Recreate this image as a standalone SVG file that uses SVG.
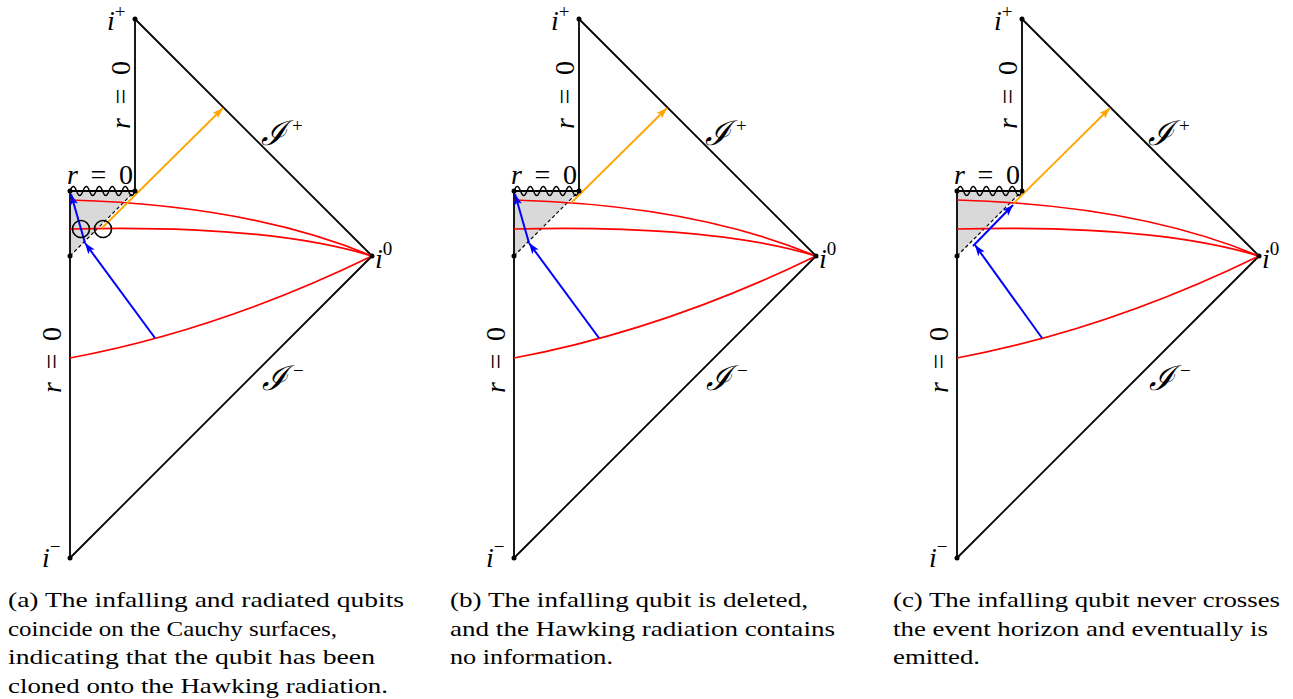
<svg xmlns="http://www.w3.org/2000/svg" width="1293" height="699" viewBox="0 0 1293 699">
<style>
.blk{fill:none;stroke:#000;stroke-width:1.8;stroke-linejoin:round}
.wav{fill:none;stroke:#000;stroke-width:1.4}
.dash{fill:none;stroke:#000;stroke-width:1.2;stroke-dasharray:3.5 2.5}
.shade{fill:#d9d9d9;stroke:none}
.red{fill:none;stroke:#ff0000;stroke-width:1.7}
.blue{fill:none;stroke:#0000ff;stroke-width:2}
.orange{fill:none;stroke:#ffa500;stroke-width:1.8}
.circ{fill:none;stroke:#000;stroke-width:1.6}
.dot{fill:#000}
.it{font-style:italic}
.sup{font-size:19px}
.scr{font-family:"DejaVu Serif",serif;font-size:34px;font-style:italic}
</style>
<defs>
<marker id="ab" viewBox="0 -5 12 10" refX="11" refY="0" markerWidth="12" markerHeight="10" markerUnits="userSpaceOnUse" orient="auto"><path d="M0,-4 L11,0 L0,4 L2.5,0 z" fill="#0000ff"/></marker>
<marker id="ao" viewBox="0 -5 12 10" refX="11" refY="0" markerWidth="12" markerHeight="10" markerUnits="userSpaceOnUse" orient="auto"><path d="M0,-4 L11,0 L0,4 L2.5,0 z" fill="#ffa500"/></marker>
</defs>

<!-- Panel (a) -->
<g id="panel-a">
  <g id="a-region"><path class="shade" d="M70,191 L135,191 L70,256 Z"/></g>
  <g id="a-frame">
    <path class="blk" d="M135,19 L135,191"/>
    <path class="blk" d="M135,19 L372,256 L70,558 L70,191 L135,191"/>
    <path class="wav" d="M70,191 q3.25,-9 6.5,0 t6.5,0 t6.5,0 t6.5,0 t6.5,0 t6.5,0 t6.5,0 t6.5,0 t6.5,0 t6.5,0"/>
    <path class="dash" d="M70,256 L135,191"/>
  </g>
  <g id="a-surfaces">
    <path class="red" d="M70,200 Q250,205 372,256"/>
    <path class="red" d="M70,229 C150,227 280,228 372,256"/>
    <path class="red" d="M70,358 Q220,330 372,256"/>
  </g>
  <g id="a-connectors">
    <path class="blue" d="M155,338 L85,243" marker-end="url(#ab)"/>
    <path class="blue" d="M85,243 L71,194" marker-end="url(#ab)"/>
    <path class="orange" d="M102,228 L223,108" marker-end="url(#ao)"/>
  </g>
  <g id="a-circles">
    <circle class="circ" cx="81" cy="229" r="8.5"/>
    <circle class="circ" cx="103" cy="229" r="8.5"/>
  </g>
  <g id="a-dots">
    <circle class="dot" cx="135" cy="19" r="2.5"/>
    <circle class="dot" cx="70" cy="191" r="2.5"/>
    <circle class="dot" cx="135" cy="191" r="2.5"/>
    <circle class="dot" cx="70" cy="256" r="2.5"/>
    <circle class="dot" cx="372" cy="256" r="2.5"/>
    <circle class="dot" cx="70" cy="558" r="2.5"/>
  </g>
  <g id="a-labels" font-family="Liberation Serif, serif" font-size="28">
    <text x="107" y="30"><tspan class="it">i</tspan><tspan class="sup" dy="-12">+</tspan></text>
    <text transform="translate(130,95) rotate(-90)" text-anchor="middle" textLength="68" lengthAdjust="spacing"><tspan class="it">r</tspan> = 0</text>
    <text x="67" y="184" textLength="66" lengthAdjust="spacing"><tspan class="it">r</tspan> = 0</text>
    <text x="261" y="145"><tspan class="scr">ℐ</tspan><tspan class="sup" dx="6" dy="-13">+</tspan></text>
    <text x="375" y="268"><tspan class="it">i</tspan><tspan class="sup" dy="-13">0</tspan></text>
    <text transform="translate(61,360) rotate(-90)" text-anchor="middle" textLength="66" lengthAdjust="spacing"><tspan class="it">r</tspan> = 0</text>
    <text x="262" y="390"><tspan class="scr">ℐ</tspan><tspan class="sup" dx="6" dy="-13">−</tspan></text>
    <text x="42" y="567"><tspan class="it">i</tspan><tspan class="sup" dy="-14">−</tspan></text>
  </g>
</g>

<!-- Panel (b) -->
<g id="panel-b" transform="translate(444,0)">
  <g id="b-region"><path class="shade" d="M70,191 L135,191 L70,256 Z"/></g>
  <g id="b-frame">
    <path class="blk" d="M135,19 L135,191"/>
    <path class="blk" d="M135,19 L372,256 L70,558 L70,191 L135,191"/>
    <path class="wav" d="M70,191 q3.25,-9 6.5,0 t6.5,0 t6.5,0 t6.5,0 t6.5,0 t6.5,0 t6.5,0 t6.5,0 t6.5,0 t6.5,0"/>
    <path class="dash" d="M70,256 L135,191"/>
  </g>
  <g id="b-surfaces">
    <path class="red" d="M70,200 Q250,205 372,256"/>
    <path class="red" d="M70,229 C150,227 280,228 372,256"/>
    <path class="red" d="M70,358 Q220,330 372,256"/>
  </g>
  <g id="b-connectors">
    <path class="blue" d="M155,338 L85,243" marker-end="url(#ab)"/>
    <path class="blue" d="M85,243 L71,194" marker-end="url(#ab)"/>
    <path class="orange" d="M127,203 L223,108" marker-end="url(#ao)"/>
  </g>
  <g id="b-dots">
    <circle class="dot" cx="135" cy="19" r="2.5"/>
    <circle class="dot" cx="70" cy="191" r="2.5"/>
    <circle class="dot" cx="135" cy="191" r="2.5"/>
    <circle class="dot" cx="70" cy="256" r="2.5"/>
    <circle class="dot" cx="372" cy="256" r="2.5"/>
    <circle class="dot" cx="70" cy="558" r="2.5"/>
  </g>
  <g id="b-labels" font-family="Liberation Serif, serif" font-size="28">
    <text x="107" y="30"><tspan class="it">i</tspan><tspan class="sup" dy="-12">+</tspan></text>
    <text transform="translate(130,95) rotate(-90)" text-anchor="middle" textLength="68" lengthAdjust="spacing"><tspan class="it">r</tspan> = 0</text>
    <text x="67" y="184" textLength="66" lengthAdjust="spacing"><tspan class="it">r</tspan> = 0</text>
    <text x="261" y="145"><tspan class="scr">ℐ</tspan><tspan class="sup" dx="6" dy="-13">+</tspan></text>
    <text x="375" y="268"><tspan class="it">i</tspan><tspan class="sup" dy="-13">0</tspan></text>
    <text transform="translate(61,360) rotate(-90)" text-anchor="middle" textLength="66" lengthAdjust="spacing"><tspan class="it">r</tspan> = 0</text>
    <text x="262" y="390"><tspan class="scr">ℐ</tspan><tspan class="sup" dx="6" dy="-13">−</tspan></text>
    <text x="42" y="567"><tspan class="it">i</tspan><tspan class="sup" dy="-14">−</tspan></text>
  </g>
</g>

<!-- Panel (c) -->
<g id="panel-c" transform="translate(887,0)">
  <g id="c-region"><path class="shade" d="M70,191 L135,191 L70,256 Z"/></g>
  <g id="c-frame">
    <path class="blk" d="M135,19 L135,191"/>
    <path class="blk" d="M135,19 L372,256 L70,558 L70,191 L135,191"/>
    <path class="wav" d="M70,191 q3.25,-9 6.5,0 t6.5,0 t6.5,0 t6.5,0 t6.5,0 t6.5,0 t6.5,0 t6.5,0 t6.5,0 t6.5,0"/>
    <path class="dash" d="M70,256 L135,191"/>
  </g>
  <g id="c-surfaces">
    <path class="red" d="M70,200 Q250,205 372,256"/>
    <path class="red" d="M70,229 C150,227 280,228 372,256"/>
    <path class="red" d="M70,358 Q220,330 372,256"/>
  </g>
  <g id="c-connectors">
    <path class="blue" d="M155,338 L88,245" marker-end="url(#ab)"/>
    <path class="blue" d="M86,246 L126,205" marker-end="url(#ab)"/>
    <path class="orange" d="M127,203 L223,108" marker-end="url(#ao)"/>
  </g>
  <g id="c-dots">
    <circle class="dot" cx="135" cy="19" r="2.5"/>
    <circle class="dot" cx="70" cy="191" r="2.5"/>
    <circle class="dot" cx="135" cy="191" r="2.5"/>
    <circle class="dot" cx="70" cy="256" r="2.5"/>
    <circle class="dot" cx="372" cy="256" r="2.5"/>
    <circle class="dot" cx="70" cy="558" r="2.5"/>
  </g>
  <g id="c-labels" font-family="Liberation Serif, serif" font-size="28">
    <text x="107" y="30"><tspan class="it">i</tspan><tspan class="sup" dy="-12">+</tspan></text>
    <text transform="translate(130,95) rotate(-90)" text-anchor="middle" textLength="68" lengthAdjust="spacing"><tspan class="it">r</tspan> = 0</text>
    <text x="67" y="184" textLength="66" lengthAdjust="spacing"><tspan class="it">r</tspan> = 0</text>
    <text x="261" y="145"><tspan class="scr">ℐ</tspan><tspan class="sup" dx="6" dy="-13">+</tspan></text>
    <text x="375" y="268"><tspan class="it">i</tspan><tspan class="sup" dy="-13">0</tspan></text>
    <text transform="translate(61,360) rotate(-90)" text-anchor="middle" textLength="66" lengthAdjust="spacing"><tspan class="it">r</tspan> = 0</text>
    <text x="262" y="390"><tspan class="scr">ℐ</tspan><tspan class="sup" dx="6" dy="-13">−</tspan></text>
    <text x="42" y="567"><tspan class="it">i</tspan><tspan class="sup" dy="-14">−</tspan></text>
  </g>
</g>

<!-- Captions -->
<g id="captions" font-family="Liberation Serif, serif" font-size="22">
  <text x="8" y="607" textLength="396" lengthAdjust="spacingAndGlyphs">(a) The infalling and radiated qubits</text>
  <text x="8" y="636" textLength="329" lengthAdjust="spacingAndGlyphs">coincide on the Cauchy surfaces,</text>
  <text x="8" y="664" textLength="367" lengthAdjust="spacingAndGlyphs">indicating that the qubit has been</text>
  <text x="8" y="693" textLength="380" lengthAdjust="spacingAndGlyphs">cloned onto the Hawking radiation.</text>
  <text x="450" y="607" textLength="358" lengthAdjust="spacingAndGlyphs">(b) The infalling qubit is deleted,</text>
  <text x="450" y="636" textLength="385" lengthAdjust="spacingAndGlyphs">and the Hawking radiation contains</text>
  <text x="450" y="664" textLength="163" lengthAdjust="spacingAndGlyphs">no information.</text>
  <text x="893" y="607" textLength="387" lengthAdjust="spacingAndGlyphs">(c) The infalling qubit never crosses</text>
  <text x="893" y="636" textLength="375" lengthAdjust="spacingAndGlyphs">the event horizon and eventually is</text>
  <text x="893" y="664" textLength="87" lengthAdjust="spacingAndGlyphs">emitted.</text>
</g>
</svg>
